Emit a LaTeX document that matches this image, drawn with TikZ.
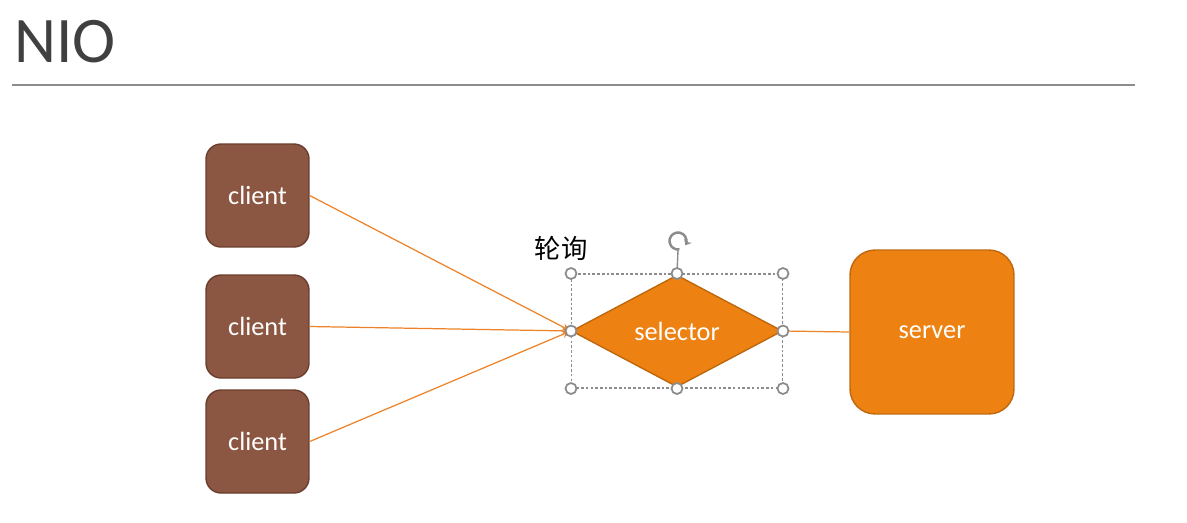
\documentclass[tikz,border=0pt]{standalone}
\usepackage{fontspec}
\setmainfont{Carlito}
\newfontfamily\cjkfont{Noto Sans CJK SC}
\usetikzlibrary{shapes.geometric,arrows.meta}
\definecolor{clientfill}{RGB}{139,87,66}
\definecolor{clientedge}{RGB}{106,62,46}
\definecolor{nioorange}{RGB}{237,130,18}
\definecolor{orangeedge}{RGB}{190,104,14}
\definecolor{linkorange}{RGB}{237,130,40}
\definecolor{titlegray}{RGB}{64,64,64}
\definecolor{handlegray}{RGB}{140,140,140}

\begin{document}
\begin{tikzpicture}[x=0.02cm, y=-0.02cm,
            client/.style={draw=clientedge, fill=clientfill, line width=0.8pt,
              rounded corners=0.3cm, minimum width=2.06cm, minimum height=2.06cm,
              text=white, font=\fontsize{15}{15}\selectfont},
            selectorshape/.style={diamond, draw=orangeedge, fill=nioorange, line width=0.8pt,
              minimum width=4.22cm, minimum height=2.24cm, inner sep=0pt,
              text=white, font=\fontsize{15}{15}\selectfont},
            serverbox/.style={draw=orangeedge, fill=nioorange, line width=0.8pt,
              rounded corners=0.5cm, minimum width=3.28cm, minimum height=3.28cm,
              text=white, font=\fontsize{15}{15}\selectfont},
            link/.style={draw=linkorange, line width=0.7pt},
            selframe/.style={draw=handlegray, dash pattern=on 1.5pt off 1.2pt, line width=0.6pt,
              minimum width=4.22cm, minimum height=2.28cm, inner sep=0pt},
            handle/.style={circle, draw=handlegray, fill=white, line width=1pt,
              minimum size=0.22cm, inner sep=0pt}]
  \useasboundingbox (0,0) rectangle (1187,522);

  % title
  \node[anchor=base west, inner sep=0pt, text=titlegray,
        font=\fontsize{37}{38}\selectfont] (title) at (14,62) {NIO};
  \coordinate (ruleL) at (12,85);
  \coordinate (ruleR) at (1135,85);
  \draw[handlegray, line width=0.8pt] (ruleL) -- (ruleR);

  % nodes
  \node[client] (client1) at (257.5,195.5) {client};
  \node[client] (client2) at (257.5,326.5) {client};
  \node[client] (client3) at (257.5,441.5) {client};
  \node[selectorshape] (selector) at (677,331) {selector};
  \node[serverbox] (server) at (932,332) {\raisebox{-2pt}{server}};
  \node[inner sep=0pt, font=\cjkfont\fontsize{15}{15}\selectfont] (poll) at (561,248) {轮询};

  % links
  \draw[link, -{Stealth[length=5pt, width=4pt]}] (client1.east) -- (selector.west);
  \draw[link, -{Stealth[length=5pt, width=4pt]}] (client2.east) -- (selector.west);
  \draw[link, -{Stealth[length=5pt, width=4pt]}] (client3.east) -- (selector.west);
  \draw[link] (selector.east) -- (server.west);

  % selection frame
  \node[selframe] (selbox) at (677,331) {};
  \coordinate (rot) at (678,241);
  \draw[handlegray, line width=0.8pt] (selbox.north) -- (678,250);
  \draw[handlegray, line width=1.4pt, -{Stealth[length=3pt, width=5pt]}]
    (rot) ++(-80:0.17cm) arc[start angle=-80, end angle=-390, radius=0.17cm];
  \foreach \a in {north west, north, north east, east, south east, south, south west, west}
    \node[handle] at (selbox.\a) {};
\end{tikzpicture}
\end{document}
